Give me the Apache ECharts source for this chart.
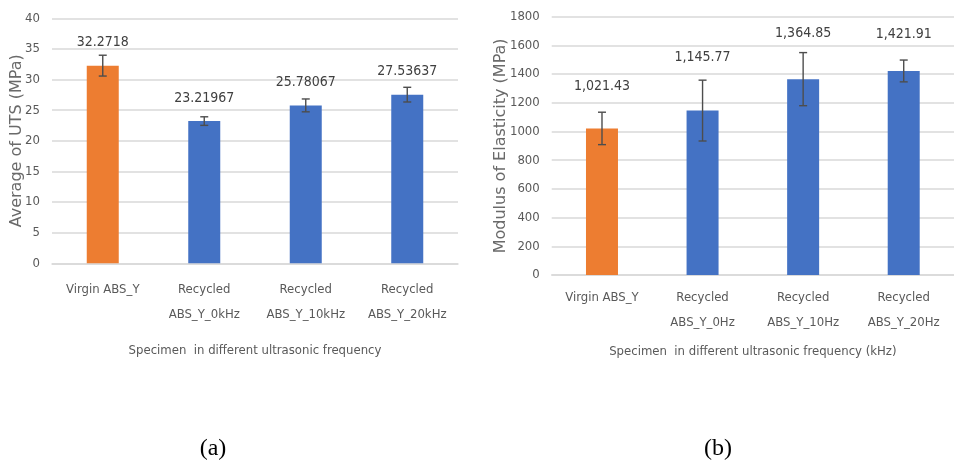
<!DOCTYPE html>
<html>
<head>
<meta charset="utf-8">
<script src="https://cdn.jsdelivr.net/npm/echarts@6/dist/echarts.min.js"></script>
<style>html,body{margin:0;padding:0;background:#fff}#c{width:954px;height:465px}</style>
</head>
<body>
<div id="c"></div>
<script>
// ---- data ----
const categoriesA = ['Virgin ABS_Y', 'Recycled\nABS_Y_0kHz', 'Recycled\nABS_Y_10kHz', 'Recycled\nABS_Y_20kHz'];
const categoriesB = ['Virgin ABS_Y', 'Recycled\nABS_Y_0Hz', 'Recycled\nABS_Y_10Hz', 'Recycled\nABS_Y_20Hz'];
const utsValues = [32.2718, 23.21967, 25.78067, 27.53637];
const utsErrors = [1.7, 0.7, 1.05, 1.2];
const modulusValues = [1021.43, 1145.77, 1364.85, 1421.91];
const modulusErrors = [113, 212, 185, 76];
const yTicksA = {min: 0, max: 40, interval: 5};
const yTicksB = {min: 0, max: 1800, interval: 200};

// ---- styling ----
const ORANGE = '#ED7D31', BLUE = '#4472C4', TXT = '#595959', GRID = '#d9d9d9', ERR = '#4d4d4d';
const NARROW = '"Liberation Sans Narrow","DejaVu Sans Condensed",sans-serif';
const labelGapA = [15, 15, 15, 15];
const labelGapB = [34, 45, 38, 29];

function barData(vals, gaps, fmt) {
  return vals.map((v, i) => ({
    value: v,
    itemStyle: {color: i === 0 ? ORANGE : BLUE},
    label: {distance: gaps[i], formatter: () => fmt(v)}
  }));
}
function errRender(vals, errs) {
  return function (params, api) {
    const i = api.value(0);
    const lo = api.coord([i, vals[i] - errs[i]]);
    const hi = api.coord([i, vals[i] + errs[i]]);
    const cap = 4;
    const st = {stroke: ERR, lineWidth: 1.4};
    return {type: 'group', children: [
      {type: 'line', shape: {x1: lo[0], y1: lo[1], x2: hi[0], y2: hi[1]}, style: st},
      {type: 'line', shape: {x1: hi[0] - cap, y1: hi[1], x2: hi[0] + cap, y2: hi[1]}, style: st},
      {type: 'line', shape: {x1: lo[0] - cap, y1: lo[1], x2: lo[0] + cap, y2: lo[1]}, style: st}
    ]};
  };
}
function xAx(idx, cats, name, margin, nameGap) {
  return {
    type: 'category', gridIndex: idx, data: cats,
    axisTick: {show: false},
    axisLine: {lineStyle: {color: GRID, width: 1.5}},
    axisLabel: {color: TXT, fontFamily: NARROW, fontSize: 13, lineHeight: 25, margin: margin, interval: 0},
    name: name, nameLocation: 'middle', nameGap: nameGap, nameMoveOverlap: false,
    nameTextStyle: {color: TXT, fontFamily: NARROW, fontSize: 13}
  };
}
function yAx(idx, t, name, nameGap) {
  return {
    type: 'value', gridIndex: idx, min: t.min, max: t.max, interval: t.interval,
    axisLine: {show: false}, axisTick: {show: false},
    splitLine: {lineStyle: {color: GRID, width: 1.5}},
    axisLabel: {color: TXT, fontFamily: NARROW, fontSize: 13, margin: 12, formatter: v => String(v)},
    name: name, nameLocation: 'middle', nameGap: nameGap, nameRotate: 90, nameMoveOverlap: false,
    nameTextStyle: {color: '#6a6a6a', fontFamily: '"DejaVu Sans",sans-serif', fontSize: 16}
  };
}

const chart = echarts.init(document.getElementById('c'), null, {renderer: 'canvas'});
chart.setOption({
  animation: false,
  backgroundColor: '#fff',
  title: [
    {text: '(a)', left: 208, top: 432, textAlign: 'center', textStyle: {fontFamily: '"Liberation Serif",serif', fontSize: 24, fontWeight: 'normal', color: '#000'}},
    {text: '(b)', left: 713, top: 432, textAlign: 'center', textStyle: {fontFamily: '"Liberation Serif",serif', fontSize: 24, fontWeight: 'normal', color: '#000'}}
  ],
  grid: [
    {left: 52, top: 18.3, width: 406, height: 245},
    {left: 551.7, top: 16.7, width: 412, height: 258.3}
  ],
  xAxis: [
    xAx(0, categoriesA, 'Specimen  in different ultrasonic frequency', 14, 81),
    xAx(1, categoriesB, 'Specimen  in different ultrasonic frequency (kHz)', 10.5, 70)
  ],
  yAxis: [
    yAx(0, yTicksA, 'Average of UTS (MPa)', 27),
    yAx(1, yTicksB, 'Modulus of Elasticity (MPa)', 43)
  ],
  series: [
    {type: 'bar', xAxisIndex: 0, yAxisIndex: 0, barWidth: 32,
     data: barData(utsValues, labelGapA, v => String(v)),
     label: {show: true, position: 'top', color: '#404040', fontFamily: NARROW, fontSize: 14, lineHeight: 16}},
    {type: 'custom', xAxisIndex: 0, yAxisIndex: 0, data: utsValues.map((v, i) => [i, v]),
     renderItem: errRender(utsValues, utsErrors), z: 5},
    {type: 'bar', xAxisIndex: 1, yAxisIndex: 1, barWidth: 32,
     data: barData(modulusValues, labelGapB, v => v.toLocaleString('en-US', {minimumFractionDigits: 2, maximumFractionDigits: 2})),
     label: {show: true, position: 'top', color: '#404040', fontFamily: NARROW, fontSize: 14, lineHeight: 16}},
    {type: 'custom', xAxisIndex: 1, yAxisIndex: 1, data: modulusValues.map((v, i) => [i, v]),
     renderItem: errRender(modulusValues, modulusErrors), z: 5}
  ]
});
</script>
</body>
</html>
